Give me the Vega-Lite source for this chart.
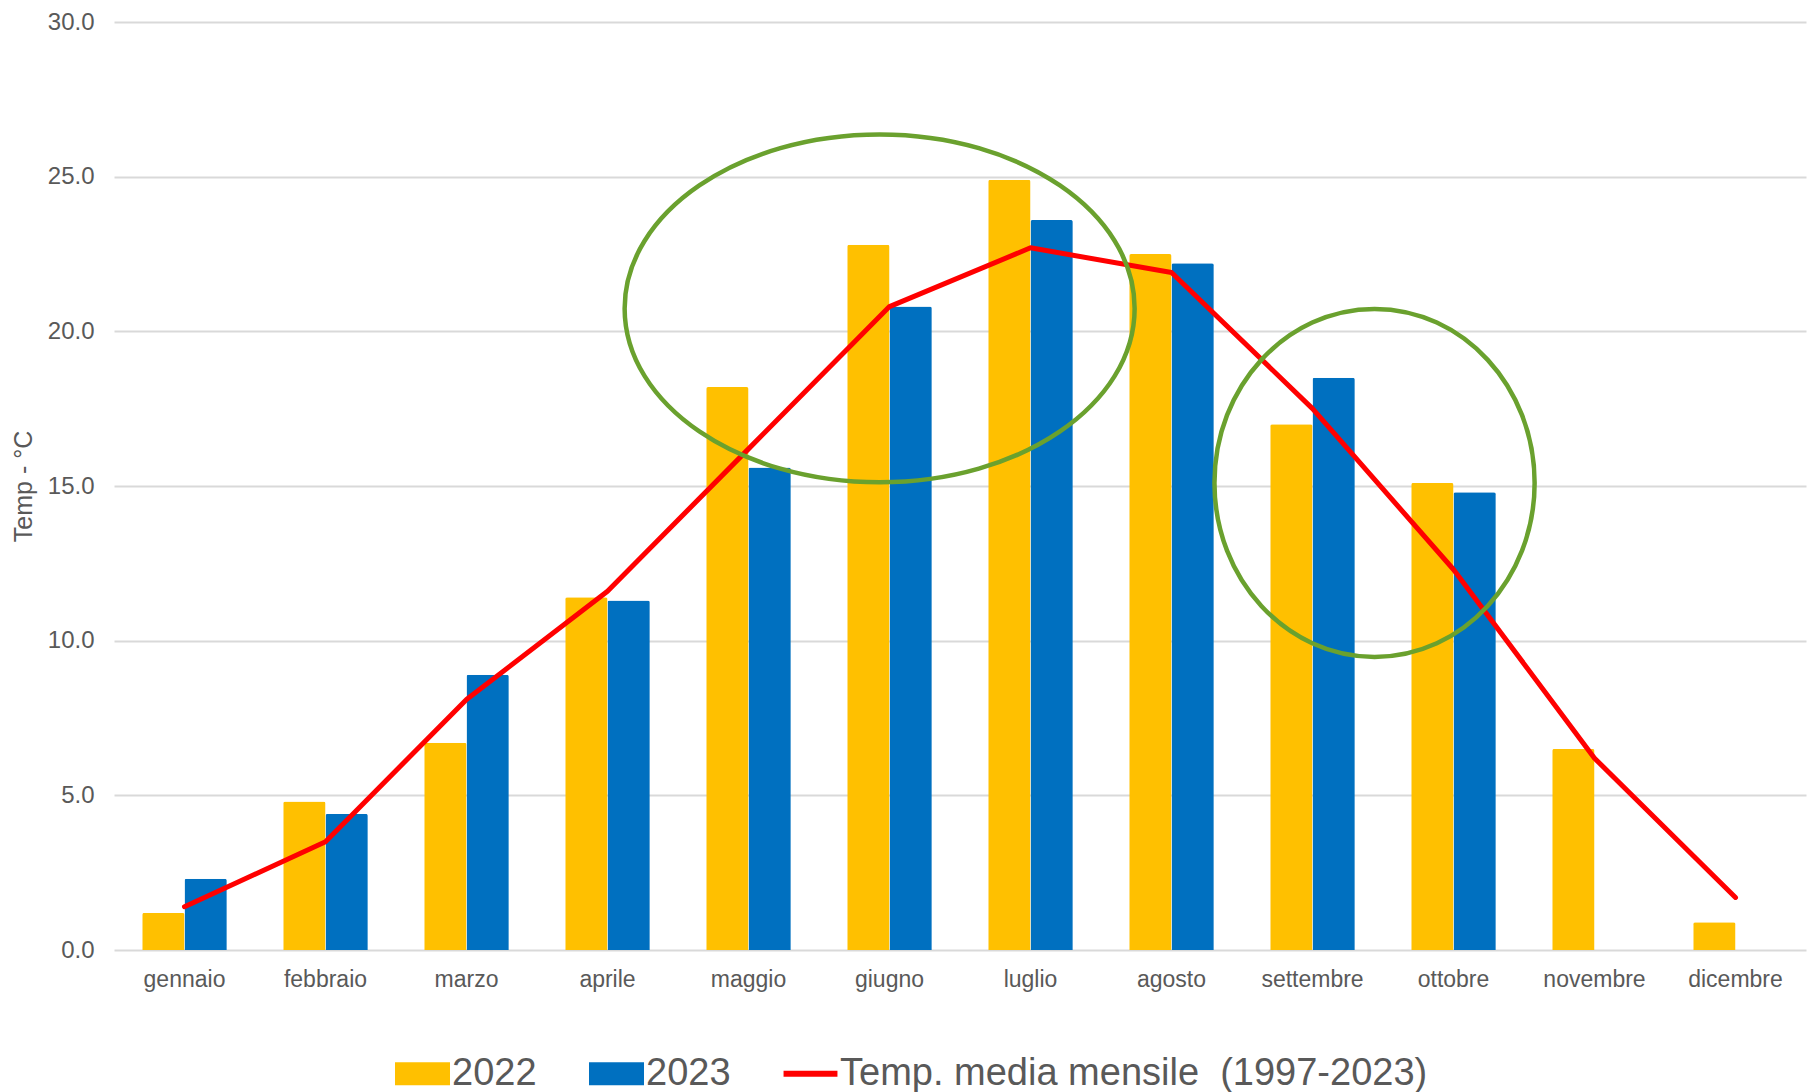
{
  "$schema": "https://vega.github.io/schema/vega-lite/v6.json",
  "width": 1692,
  "height": 928,
  "autosize": {"type": "none"},
  "padding": {"left": 114, "top": 22, "right": 8, "bottom": 142},
  "background": "white",
  "config": {
    "view": {"stroke": null},
    "font": "Liberation Sans"
  },
  "datasets": {
    "bars": [
      {"month": "gennaio", "series": "2022", "temp": 1.2},
      {"month": "febbraio", "series": "2022", "temp": 4.8},
      {"month": "marzo", "series": "2022", "temp": 6.7},
      {"month": "aprile", "series": "2022", "temp": 11.4},
      {"month": "maggio", "series": "2022", "temp": 18.2},
      {"month": "giugno", "series": "2022", "temp": 22.8},
      {"month": "luglio", "series": "2022", "temp": 24.9},
      {"month": "agosto", "series": "2022", "temp": 22.5},
      {"month": "settembre", "series": "2022", "temp": 17.0},
      {"month": "ottobre", "series": "2022", "temp": 15.1},
      {"month": "novembre", "series": "2022", "temp": 6.5},
      {"month": "dicembre", "series": "2022", "temp": 0.9},
      {"month": "gennaio", "series": "2023", "temp": 2.3},
      {"month": "febbraio", "series": "2023", "temp": 4.4},
      {"month": "marzo", "series": "2023", "temp": 8.9},
      {"month": "aprile", "series": "2023", "temp": 11.3},
      {"month": "maggio", "series": "2023", "temp": 15.6},
      {"month": "giugno", "series": "2023", "temp": 20.8},
      {"month": "luglio", "series": "2023", "temp": 23.6},
      {"month": "agosto", "series": "2023", "temp": 22.2},
      {"month": "settembre", "series": "2023", "temp": 18.5},
      {"month": "ottobre", "series": "2023", "temp": 14.8}
    ],
    "mean": [
      {"month": "gennaio", "temp": 1.4},
      {"month": "febbraio", "temp": 3.5},
      {"month": "marzo", "temp": 8.1},
      {"month": "aprile", "temp": 11.6},
      {"month": "maggio", "temp": 16.2},
      {"month": "giugno", "temp": 20.8},
      {"month": "luglio", "temp": 22.7},
      {"month": "agosto", "temp": 21.9},
      {"month": "settembre", "temp": 17.5},
      {"month": "ottobre", "temp": 12.3},
      {"month": "novembre", "temp": 6.2},
      {"month": "dicembre", "temp": 1.7}
    ],
    "ellipses": [
      {"name": "estate", "x": 5.43, "y": 20.74},
      {"name": "autunno", "x": 8.94, "y": 15.1}
    ]
  },
  "layer": [
    {
      "data": {"name": "bars"},
      "mark": {"type": "bar", "cornerRadiusTopLeft": 2, "cornerRadiusTopRight": 2},
      "encoding": {
        "x": {
          "field": "month",
          "type": "nominal",
          "sort": ["gennaio", "febbraio", "marzo", "aprile", "maggio", "giugno", "luglio", "agosto", "settembre", "ottobre", "novembre", "dicembre"],
          "scale": {"paddingInner": 0.4},
          "axis": {
            "title": null,
            "labelAngle": 0,
            "labelFontSize": 23,
            "labelColor": "#595959",
            "labelBaseline": "alphabetic",
            "labelPadding": 36,
            "ticks": false,
            "tickSize": 0,
            "domain": false,
            "grid": false
          }
        },
        "xOffset": {"field": "series", "type": "nominal", "scale": {"domain": ["2022", "2023"]}},
        "y": {
          "field": "temp",
          "type": "quantitative",
          "scale": {"domain": [0, 30], "nice": false},
          "axis": {
            "title": "Temp - °C",
            "titleFontSize": 25,
            "titleFontWeight": "normal",
            "titleColor": "#595959",
            "titlePadding": 11,
            "values": [0, 5, 10, 15, 20, 25, 30],
            "format": ".1f",
            "labelFontSize": 24,
            "labelColor": "#595959",
            "labelPadding": 20,
            "ticks": false,
            "tickSize": 0,
            "domain": false,
            "grid": true,
            "gridColor": "#d9d9d9",
            "gridWidth": 2
          }
        },
        "color": {
          "field": "series",
          "type": "nominal",
          "scale": {
            "domain": ["2022", "2023", "Temp. media mensile\u00a0 (1997-2023)"],
            "range": ["#FFC000", "#0070C0", "#FF0000"]
          },
          "legend": {
            "title": null,
            "orient": "none",
            "legendX": 281,
            "legendY": 1024,
            "direction": "horizontal",
            "labelFontSize": 38,
            "labelColor": "#595959",
            "labelFont": "Liberation Sans",
            "labelLimit": 2000,
            "labelOffset": 2,
            "columnPadding": 52,
            "symbolSize": 3025,
            "padding": 0,
            "encode": {
              "symbols": {
                "update": {
                  "shape": {"signal": "datum.value === '2022' || datum.value === '2023' ? 'M-1,-0.42H1V0.42H-1Z' : 'M-0.98,-0.11H0.98V0.11H-0.98Z'"},
                  "fill": {"signal": "datum.value === '2022' ? '#FFC000' : datum.value === '2023' ? '#0070C0' : '#FF0000'"},
                  "stroke": {"value": "transparent"},
                  "strokeWidth": {"value": 0},
                  "opacity": {"value": 1}
                }
              }
            }
          }
        }
      }
    },
    {
      "data": {"name": "mean"},
      "mark": {"type": "line", "strokeWidth": 5, "strokeCap": "round", "strokeJoin": "round"},
      "encoding": {
        "x": {
          "field": "month",
          "type": "nominal",
          "sort": ["gennaio", "febbraio", "marzo", "aprile", "maggio", "giugno", "luglio", "agosto", "settembre", "ottobre", "novembre", "dicembre"],
          "axis": null
        },
        "y": {"field": "temp", "type": "quantitative"},
        "color": {"datum": "Temp. media mensile\u00a0 (1997-2023)", "type": "nominal"}
      }
    },
    {
      "data": {"name": "ellipses"},
      "transform": [{"filter": "datum.name === 'estate'"}],
      "mark": {
        "type": "point",
        "shape": "M-1,0A1,0.682,0,1,0,1,0A1,0.682,0,1,0,-1,0Z",
        "size": 260100,
        "filled": false,
        "color": "#6AA12E",
        "strokeWidth": 4.5,
        "opacity": 1
      },
      "encoding": {
        "x": {"field": "x", "type": "quantitative", "scale": {"domain": [0, 12], "nice": false, "zero": false}, "axis": null},
        "y": {"field": "y", "type": "quantitative"}
      }
    },
    {
      "data": {"name": "ellipses"},
      "transform": [{"filter": "datum.name === 'autunno'"}],
      "mark": {
        "type": "point",
        "shape": "M-0.92,0A0.92,1,0,1,0,0.92,0A0.92,1,0,1,0,-0.92,0Z",
        "size": 121104,
        "filled": false,
        "color": "#6AA12E",
        "strokeWidth": 4.5,
        "opacity": 1
      },
      "encoding": {
        "x": {"field": "x", "type": "quantitative", "scale": {"domain": [0, 12], "nice": false, "zero": false}, "axis": null},
        "y": {"field": "y", "type": "quantitative"}
      }
    }
  ],
  "resolve": {"scale": {"x": "independent"}}
}
